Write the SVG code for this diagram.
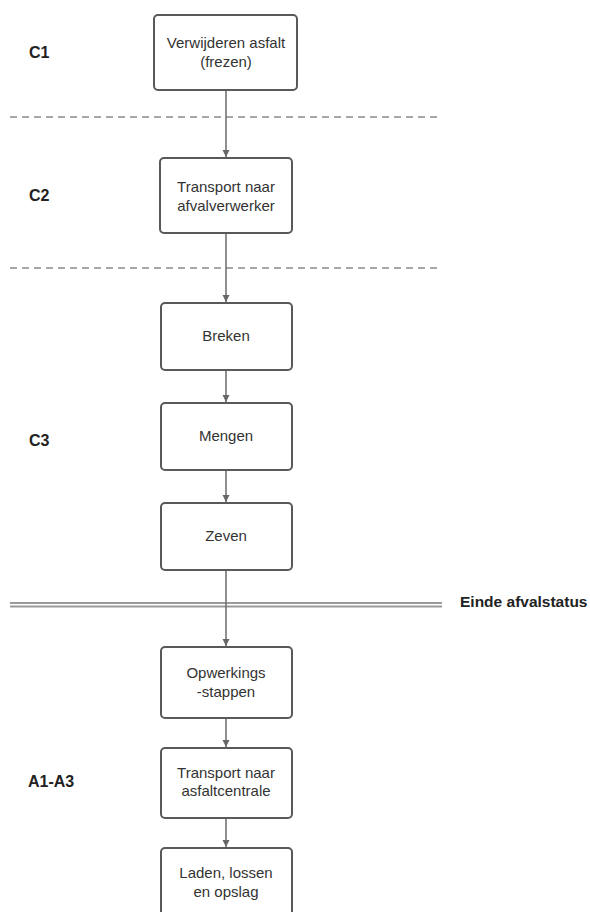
<svg xmlns="http://www.w3.org/2000/svg" width="590" height="912" viewBox="0 0 590 912">
<style>
.box{fill:#fff;stroke:#595959;stroke-width:2}
.t{font-family:"Liberation Sans",Arial,sans-serif;font-size:15px;fill:#333;text-anchor:middle}
.lab{font-family:"Liberation Sans",Arial,sans-serif;font-size:16px;font-weight:bold;fill:#222}
.con{stroke:#6b6b6b;stroke-width:1.5;fill:none}
.dash{stroke:#8a8a8a;stroke-width:1.5;stroke-dasharray:7,5;fill:none}
.dbl{stroke:#9a9a9a;stroke-width:2;fill:none}
</style>
<defs>
<marker id="ah" viewBox="0 0 10 10" refX="10" refY="5" markerWidth="7" markerHeight="9" markerUnits="userSpaceOnUse" orient="auto">
<path d="M0,0 L10,5 L0,10 z" fill="#666"/>
</marker>
</defs>
<rect width="590" height="912" fill="#fff"/>
<g id="separators">
<line class="dash" x1="10" y1="117" x2="442" y2="117"/>
<line class="dash" x1="10" y1="268" x2="442" y2="268"/>
<line class="dbl" x1="10" y1="603" x2="442" y2="603"/>
<line class="dbl" x1="10" y1="606.5" x2="442" y2="606.5"/>
</g>
<g id="labels">
<text class="lab" x="29" y="58">C1</text>
<text class="lab" x="29" y="201">C2</text>
<text class="lab" x="29" y="446">C3</text>
<text class="lab" x="28" y="787">A1-A3</text>
<text class="lab" x="460" y="607" style="font-size:15.5px">Einde afvalstatus</text>
</g>
<g id="connectors">
<line class="con" x1="226" y1="90" x2="226" y2="157" marker-end="url(#ah)"/>
<line class="con" x1="226" y1="233" x2="226" y2="302" marker-end="url(#ah)"/>
<line class="con" x1="226" y1="370" x2="226" y2="402" marker-end="url(#ah)"/>
<line class="con" x1="226" y1="470" x2="226" y2="502" marker-end="url(#ah)"/>
<line class="con" x1="226" y1="570" x2="226" y2="646" marker-end="url(#ah)"/>
<line class="con" x1="226" y1="718" x2="226" y2="747" marker-end="url(#ah)"/>
<line class="con" x1="226" y1="818" x2="226" y2="847" marker-end="url(#ah)"/>
</g>
<g id="n1"><rect class="box" x="154" y="15" width="143" height="75" rx="4"/>
<text class="t" x="226" y="48">Verwijderen asfalt</text><text class="t" x="226" y="67">(frezen)</text></g>
<g id="n2"><rect class="box" x="160" y="158" width="132" height="75" rx="4"/>
<text class="t" x="226" y="192">Transport naar</text><text class="t" x="226" y="211">afvalverwerker</text></g>
<g id="n3"><rect class="box" x="161" y="303" width="131" height="67" rx="4"/>
<text class="t" x="226" y="341">Breken</text></g>
<g id="n4"><rect class="box" x="161" y="403" width="131" height="67" rx="4"/>
<text class="t" x="226" y="441">Mengen</text></g>
<g id="n5"><rect class="box" x="161" y="503" width="131" height="67" rx="4"/>
<text class="t" x="226" y="541">Zeven</text></g>
<g id="n6"><rect class="box" x="161" y="647" width="131" height="71" rx="4"/>
<text class="t" x="226" y="678">Opwerkings</text><text class="t" x="226" y="697">-stappen</text></g>
<g id="n7"><rect class="box" x="161" y="748" width="131" height="70" rx="4"/>
<text class="t" x="226" y="778">Transport naar</text><text class="t" x="226" y="796">asfaltcentrale</text></g>
<g id="n8"><rect class="box" x="161" y="848" width="131" height="72" rx="4"/>
<text class="t" x="226" y="878">Laden, lossen</text><text class="t" x="226" y="897">en opslag</text></g>
</svg>
